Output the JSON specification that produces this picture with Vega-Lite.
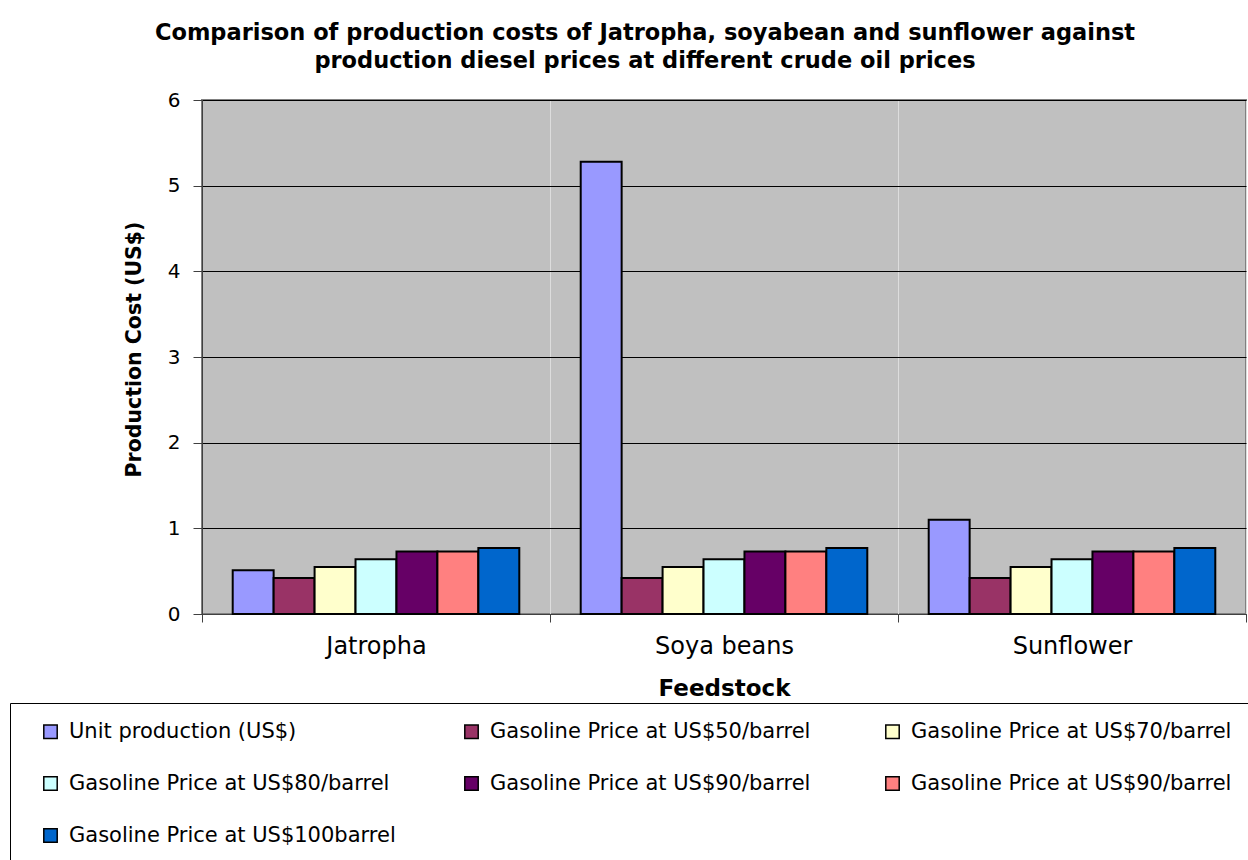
{
  "$schema": "https://vega.github.io/schema/vega-lite/v6.json",
  "width": 1044,
  "height": 514,
  "autosize": {"type": "none"},
  "padding": {"left": 202, "top": 100, "right": 2, "bottom": 246},
  "background": "white",
  "title": {
    "text": ["Comparison of  production costs of Jatropha, soyabean and sunflower against", "production diesel prices at different crude oil prices"],
    "font": "DejaVu Sans",
    "fontSize": 22.5,
    "fontWeight": "bold",
    "lineHeight": 28,
    "color": "black",
    "anchor": "middle",
    "dx": -79,
    "offset": 18
  },
  "data": {
    "values": [
      {"feedstock": "Jatropha", "series": "Unit production (US$)", "cost": 0.51},
      {"feedstock": "Jatropha", "series": "Gasoline Price at US$50/barrel", "cost": 0.42},
      {"feedstock": "Jatropha", "series": "Gasoline Price at US$70/barrel", "cost": 0.55},
      {"feedstock": "Jatropha", "series": "Gasoline Price at US$80/barrel", "cost": 0.64},
      {"feedstock": "Jatropha", "series": "Gasoline Price at US$90/barrel", "cost": 0.73},
      {"feedstock": "Jatropha", "series": "Gasoline Price at US$90/barrel ", "cost": 0.73},
      {"feedstock": "Jatropha", "series": "Gasoline Price at US$100barrel", "cost": 0.77},
      {"feedstock": "Soya beans", "series": "Unit production (US$)", "cost": 5.28},
      {"feedstock": "Soya beans", "series": "Gasoline Price at US$50/barrel", "cost": 0.42},
      {"feedstock": "Soya beans", "series": "Gasoline Price at US$70/barrel", "cost": 0.55},
      {"feedstock": "Soya beans", "series": "Gasoline Price at US$80/barrel", "cost": 0.64},
      {"feedstock": "Soya beans", "series": "Gasoline Price at US$90/barrel", "cost": 0.73},
      {"feedstock": "Soya beans", "series": "Gasoline Price at US$90/barrel ", "cost": 0.73},
      {"feedstock": "Soya beans", "series": "Gasoline Price at US$100barrel", "cost": 0.77},
      {"feedstock": "Sunflower", "series": "Unit production (US$)", "cost": 1.10},
      {"feedstock": "Sunflower", "series": "Gasoline Price at US$50/barrel", "cost": 0.42},
      {"feedstock": "Sunflower", "series": "Gasoline Price at US$70/barrel", "cost": 0.55},
      {"feedstock": "Sunflower", "series": "Gasoline Price at US$80/barrel", "cost": 0.64},
      {"feedstock": "Sunflower", "series": "Gasoline Price at US$90/barrel", "cost": 0.73},
      {"feedstock": "Sunflower", "series": "Gasoline Price at US$90/barrel ", "cost": 0.73},
      {"feedstock": "Sunflower", "series": "Gasoline Price at US$100barrel", "cost": 0.77}
    ]
  },
  "mark": {"type": "bar", "stroke": "black", "strokeWidth": 2},
  "encoding": {
    "x": {
      "field": "feedstock",
      "type": "nominal",
      "title": "Feedstock",
      "scale": {"paddingInner": 0, "paddingOuter": 0},
      "axis": {
        "labelAngle": 0,
        "labelFont": "DejaVu Sans",
        "labelFontSize": 24,
        "labelColor": "black",
        "labelPadding": 12,
        "tickBand": "extent",
        "tickSize": 8,
        "tickColor": "#404040",
        "domainColor": "#404040",
        "titleFont": "DejaVu Sans",
        "titleFontSize": 23,
        "titleFontWeight": "bold",
        "titleColor": "black",
        "titlePadding": 19
      }
    },
    "xOffset": {
      "field": "series",
      "type": "nominal",
      "scale": {
        "domain": ["Unit production (US$)", "Gasoline Price at US$50/barrel", "Gasoline Price at US$70/barrel", "Gasoline Price at US$80/barrel", "Gasoline Price at US$90/barrel", "Gasoline Price at US$90/barrel ", "Gasoline Price at US$100barrel"],
        "paddingInner": 0,
        "paddingOuter": 0.75
      }
    },
    "y": {
      "field": "cost",
      "type": "quantitative",
      "title": "Production Cost (US$)",
      "scale": {"domain": [0, 6]},
      "axis": {
        "values": [0, 1, 2, 3, 4, 5, 6],
        "labelFont": "DejaVu Sans",
        "labelFontSize": 20,
        "labelColor": "black",
        "labelPadding": 13,
        "tickSize": 9,
        "tickColor": "#404040",
        "domainColor": "#404040",
        "gridColor": "black",
        "gridWidth": 1,
        "titleFont": "DejaVu Sans",
        "titleFontSize": 20.5,
        "titleFontWeight": "bold",
        "titleColor": "black",
        "titlePadding": 23,
        "titleY": 249
      }
    },
    "fill": {
      "field": "series",
      "type": "nominal",
      "scale": {
        "domain": ["Unit production (US$)", "Gasoline Price at US$50/barrel", "Gasoline Price at US$70/barrel", "Gasoline Price at US$80/barrel", "Gasoline Price at US$90/barrel", "Gasoline Price at US$90/barrel ", "Gasoline Price at US$100barrel"],
        "range": ["#9999FF", "#993366", "#FFFFCC", "#CCFFFF", "#660066", "#FF8080", "#0066CC"]
      },
      "legend": {
        "title": " ",
        "titleOrient": "left",
        "titleFontSize": 10,
        "titlePadding": 12,
        "orient": "none",
        "legendX": -192,
        "legendY": 603,
        "direction": "horizontal",
        "columns": 3,
        "gridAlign": "all",
        "columnPadding": 65,
        "rowPadding": 30,
        "padding": 18,
        "strokeColor": "black",
        "fillColor": "white",
        "symbolType": "square",
        "symbolSize": 180,
        "symbolStrokeColor": "black",
        "symbolStrokeWidth": 1.5,
        "symbolOpacity": 1,
        "labelFont": "DejaVu Sans",
        "labelFontSize": 21,
        "labelColor": "black",
        "labelOffset": 8,
        "labelLimit": 400
      }
    }
  },
  "config": {
    "view": {"fill": "#C0C0C0", "stroke": "#808080", "strokeWidth": 2},
    "axis": {"grid": true}
  }
}
